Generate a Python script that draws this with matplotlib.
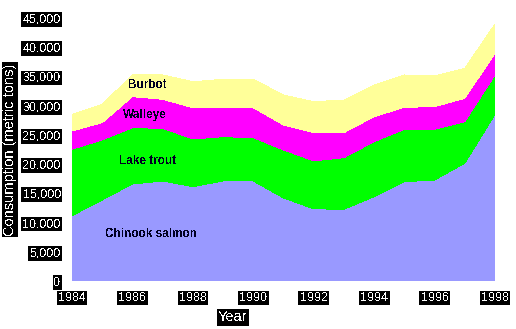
import matplotlib
matplotlib.use("Agg")
import matplotlib.pyplot as plt

plt.rcParams['font.family'] = ['Liberation Sans', 'DejaVu Sans']
plt.rcParams['text.antialiased'] = False

years = list(range(1984, 1999))
chinook = [11170, 13860, 16600, 17110, 16140, 17110, 17110, 14200, 12350,
           12270, 14430, 16990, 17280, 20140, 28520]
lake_trout = [11370, 10270, 9630, 9020, 8160, 7590, 7410, 8220, 8210,
              8830, 9410, 8970, 8680, 7120, 6730]
walleye = [3130, 2960, 5310, 4960, 5350, 4950, 5130, 4280, 4820,
           4280, 4280, 3760, 3870, 4000, 3710]
burbot = [2850, 3150, 3710, 4160, 4450, 4860, 4860, 5130, 5300,
          5590, 5420, 5530, 5250, 5130, 5020]

species = ['Chinook salmon', 'Lake trout', 'Walleye', 'Burbot']
colors = ['#9999FF', '#00FF00', '#FF00FF', '#FFFF99']
# where each label sits (year, tons)
label_pos = [(1986.6, 8040), (1986.5, 20530), (1986.4, 28400), (1986.5, 33540)]

fig = plt.figure(figsize=(5.16, 3.29), dpi=100)
ax = fig.add_axes([72 / 516, 1 - 281 / 329, 423 / 516, 263 / 329])

ax.stackplot(years, chinook, lake_trout, walleye, burbot,
             colors=colors, antialiased=False, linewidth=0)

for name, (x, y) in zip(species, label_pos):
    ax.text(x, y, name, fontsize=8.5, fontweight='bold', color='#000022',
            ha='center', va='center')

ax.set_xlim(1984, 1998)
ax.set_ylim(0, 45000)
ax.set_xticks(range(1984, 1999, 2))
ax.set_yticks(range(0, 45001, 5000))
ax.set_yticklabels([f'{v:,}' for v in range(0, 45001, 5000)])

for s in ax.spines.values():
    s.set_visible(False)
ax.tick_params(length=0, labelsize=9, labelcolor='white')
ax.tick_params(axis='y', pad=8)
ax.tick_params(axis='x', pad=8)
box = dict(facecolor='black', edgecolor='none', pad=1)
for lab in ax.get_xticklabels() + ax.get_yticklabels():
    lab.set_bbox(box)

ax.set_ylabel('Consumption (metric tons)', fontsize=10.5, color='white', bbox=box)
ax.yaxis.set_label_coords(-0.13, 0.5)
ax.set_xlabel('Year', fontsize=10.5, color='white', bbox=box)
ax.xaxis.set_label_coords(0.38, -0.112)

fig.savefig('out.png', dpi=100)
